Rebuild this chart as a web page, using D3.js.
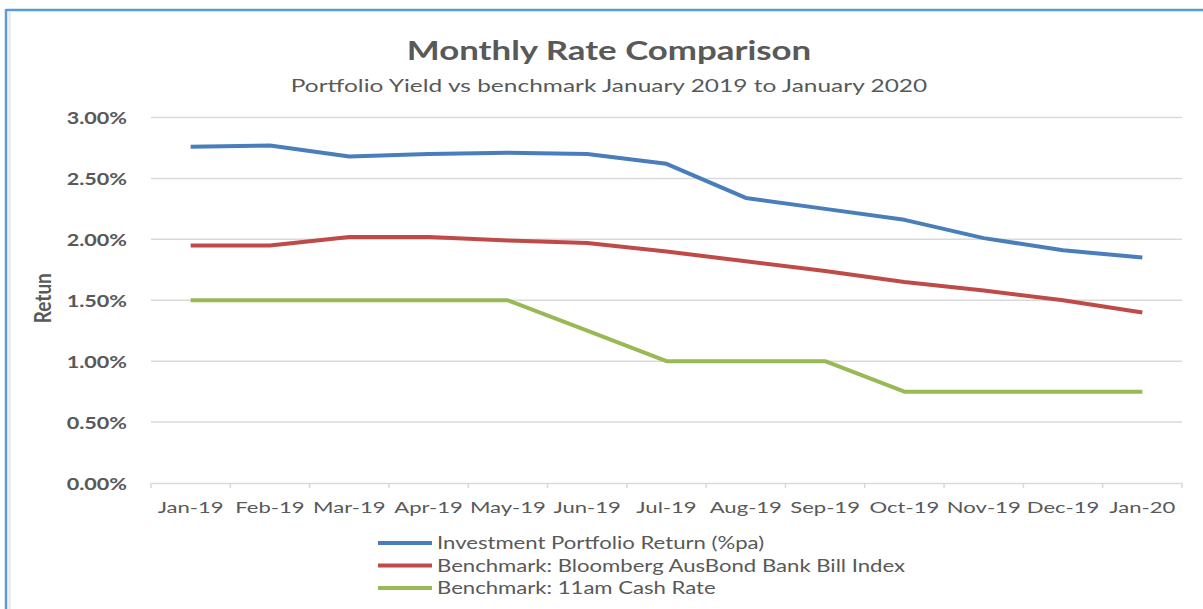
<!DOCTYPE html>
<html>
<head>
<meta charset="utf-8">
<script src="https://cdn.jsdelivr.net/npm/d3@7"></script>
<style>
  html, body { margin: 0; padding: 0; background: #fff; }
  svg { display: block; }
  text { font-family: Lato, "Open Sans", sans-serif; fill: #595959; }
</style>
</head>
<body>
<svg id="chart" width="1203" height="609"></svg>
<script>
// Monthly rates, % per annum
const months = ["Jan-19", "Feb-19", "Mar-19", "Apr-19", "May-19", "Jun-19", "Jul-19",
                "Aug-19", "Sep-19", "Oct-19", "Nov-19", "Dec-19", "Jan-20"];
const portfolioReturn = [2.76, 2.77, 2.68, 2.70, 2.71, 2.70, 2.62, 2.34, 2.25, 2.16, 2.01, 1.91, 1.85];
const bankBillIndex   = [1.95, 1.95, 2.02, 2.02, 1.99, 1.97, 1.90, 1.82, 1.74, 1.65, 1.58, 1.50, 1.40];
const cashRate        = [1.50, 1.50, 1.50, 1.50, 1.50, 1.25, 1.00, 1.00, 1.00, 0.75, 0.75, 0.75, 0.75];
const yTicks = [0, 0.5, 1.0, 1.5, 2.0, 2.5, 3.0];
const seriesNames = ["Investment Portfolio Return (%pa)",
                     "Benchmark: Bloomberg AusBond Bank Bill Index",
                     "Benchmark: 11am Cash Rate"];
const seriesColors = ["#4a7ebb", "#be4b48", "#98b954"];

const series = [portfolioReturn, bankBillIndex, cashRate].map((values, i) => ({
  name: seriesNames[i], color: seriesColors[i], values
}));

// widen text horizontally around its anchor point
function widen(sel, sx) {
  sel.each(function () {
    const t = d3.select(this);
    const tx = +t.attr("x") || 0, ty = +t.attr("y") || 0;
    t.attr("x", 0).attr("y", 0).attr("transform", `translate(${tx},${ty}) scale(${sx},1)`);
  });
}

const svg = d3.select("#chart");

// frame
svg.append("line").attr("x1", 9.5).attr("x2", 9.5).attr("y1", 12).attr("y2", 609)
  .attr("stroke", "#e4e4e4").attr("stroke-width", 2);
svg.append("line").attr("x1", 6).attr("x2", 1203).attr("y1", 10).attr("y2", 10)
  .attr("stroke", "#5b9bd5").attr("stroke-width", 2.5);
svg.append("line").attr("x1", 6).attr("x2", 6).attr("y1", 9).attr("y2", 609)
  .attr("stroke", "#5b9bd5").attr("stroke-width", 2.5);

const plot = { left: 151, right: 1182, top: 117.5, bottom: 483 };

const x = d3.scaleBand().domain(months).range([plot.left, plot.right]);
const y = d3.scaleLinear().domain([0, 3]).range([plot.bottom, plot.top]);

// gridlines
svg.append("g")
  .selectAll("line").data(yTicks.filter(d => d > 0)).join("line")
  .attr("x1", plot.left).attr("x2", plot.right)
  .attr("y1", d => y(d)).attr("y2", d => y(d))
  .attr("stroke", "#d9d9d9").attr("stroke-width", 1.5);

// y axis labels
const yAxis = svg.append("g").attr("transform", `translate(${plot.left - 24},0)`)
  .call(d3.axisLeft(y).tickValues(yTicks).tickFormat(d => d3.format(".2f")(d) + "%").tickSize(0));
yAxis.select(".domain").remove();
yAxis.selectAll("text").attr("x", 0).attr("dy", "0.36em")
  .style("font-size", "17px").style("font-weight", "bold").attr("fill", "#595959");
widen(yAxis.selectAll("text"), 1.27);

// x axis
const xAxis = svg.append("g").attr("transform", `translate(0,${plot.bottom})`)
  .call(d3.axisBottom(x).tickSize(0).tickPadding(19));
xAxis.select(".domain").attr("stroke", "#d9d9d9").attr("stroke-width", 1.5);
xAxis.selectAll("text").style("font-size", "16px").attr("fill", "#595959");
widen(xAxis.selectAll("text"), 1.38);
// tick marks at category boundaries
xAxis.append("g").selectAll("line")
  .data(d3.range(months.length + 1)).join("line")
  .attr("x1", i => plot.left + i * x.step()).attr("x2", i => plot.left + i * x.step())
  .attr("y1", 0).attr("y2", 5)
  .attr("stroke", "#d9d9d9").attr("stroke-width", 1.5);

// y axis title
svg.append("text")
  .attr("transform", `translate(51,${(plot.top + plot.bottom) / 2 - 2}) scale(1.2,1) rotate(-90)`)
  .attr("text-anchor", "middle")
  .style("font-size", "19px").style("font-weight", "bold")
  .text("Retun");

// lines
const line = d3.line()
  .x((d, i) => x(months[i]) + x.bandwidth() / 2)
  .y(d => y(d));

svg.append("g").selectAll("path").data(series).join("path")
  .attr("d", d => line(d.values))
  .attr("fill", "none")
  .attr("stroke", d => d.color)
  .attr("stroke-width", 4)
  .attr("stroke-linejoin", "round");

// title
const title = svg.append("text").attr("x", 609).attr("y", 60).attr("text-anchor", "middle")
  .style("font-size", "27px").style("font-weight", "bold")
  .text("Monthly Rate Comparison");
widen(title, 1.29);
const subtitle = svg.append("text").attr("x", 609).attr("y", 92).attr("text-anchor", "middle")
  .style("font-size", "17.5px")
  .text("Portfolio Yield vs benchmark January 2019 to January 2020");
widen(subtitle, 1.40);

// legend
const legend = svg.append("g").attr("transform", "translate(378,543)");
const item = legend.selectAll("g").data(series).join("g")
  .attr("transform", (d, i) => `translate(0,${i * 22.5})`);
item.append("line").attr("x1", 0).attr("x2", 54).attr("y1", 0).attr("y2", 0)
  .attr("stroke", d => d.color).attr("stroke-width", 4);
const legendText = item.append("text").attr("x", 59).attr("y", 0).attr("dy", "0.35em")
  .style("font-size", "18px")
  .text(d => d.name);
widen(legendText, 1.23);
</script>
</body>
</html>
